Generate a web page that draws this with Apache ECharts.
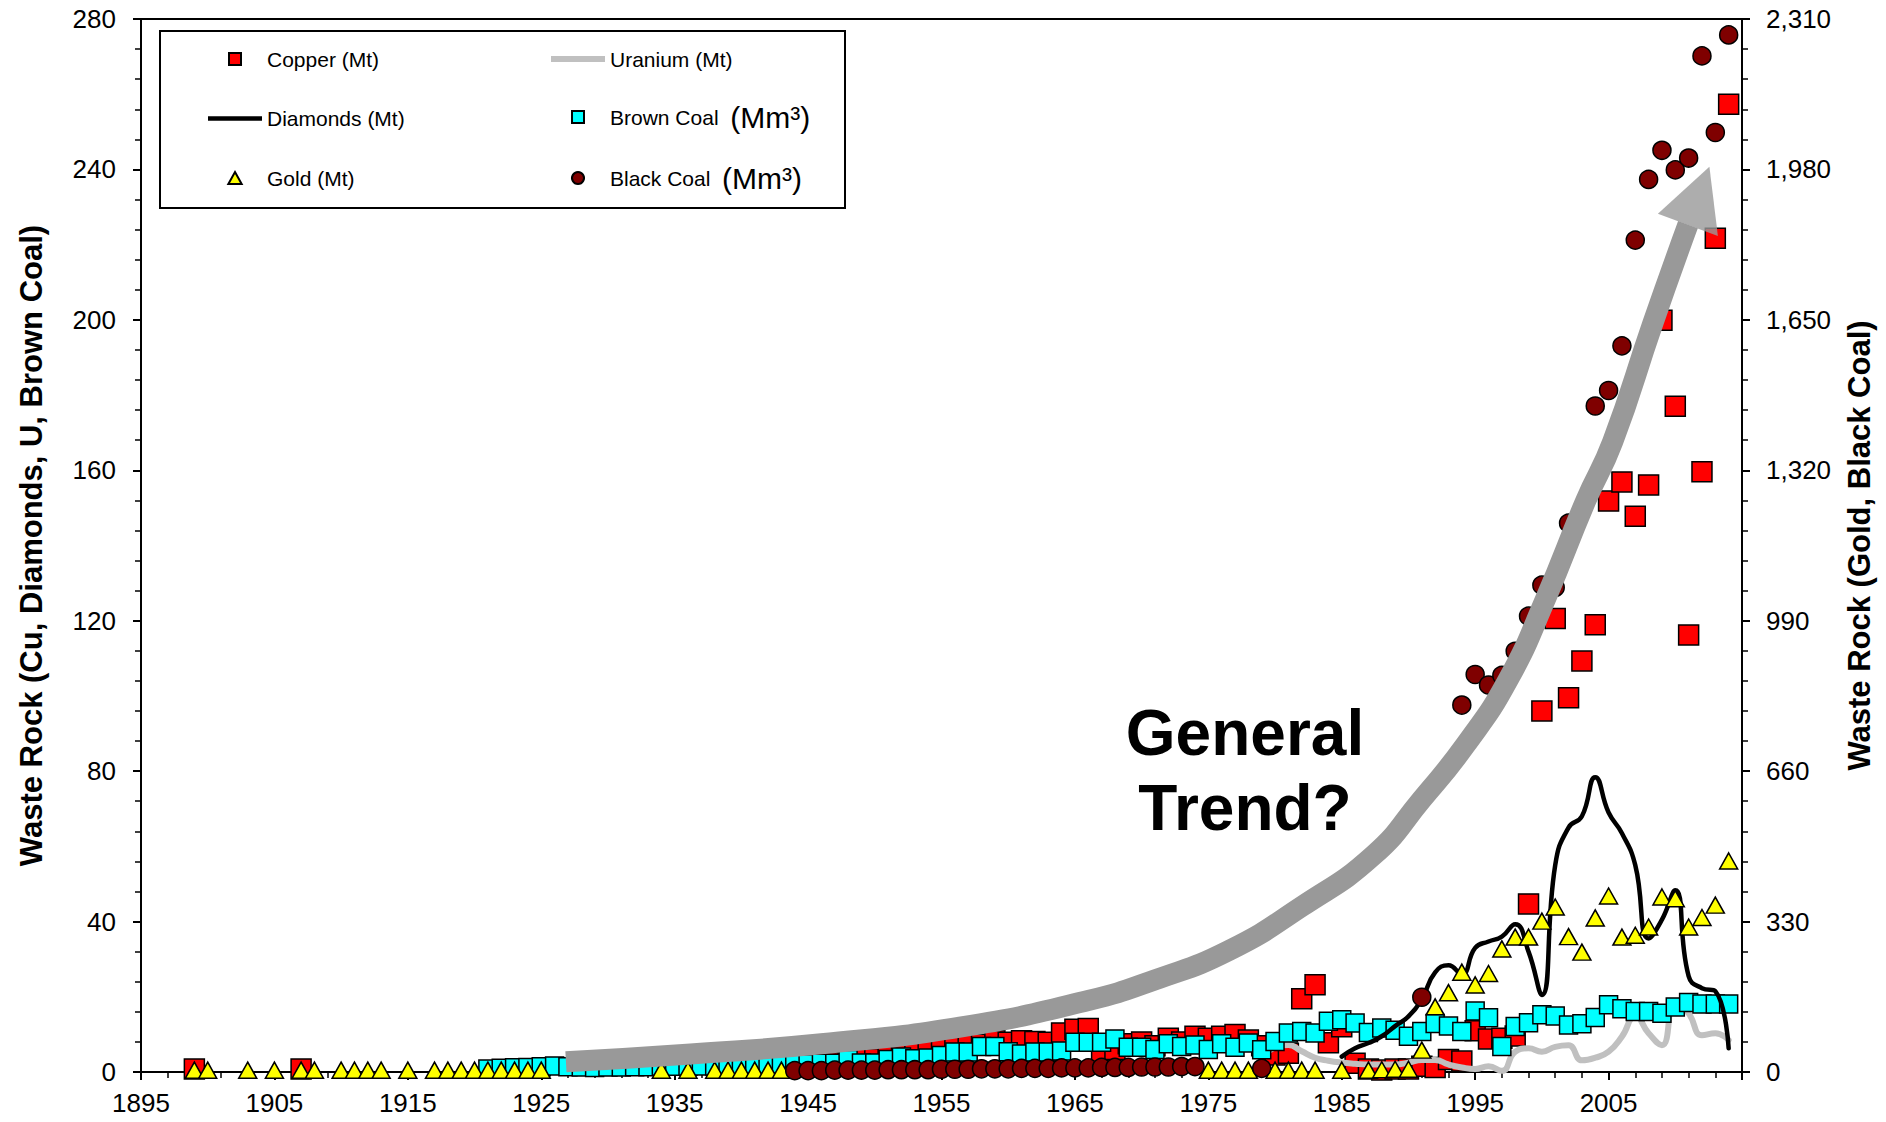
<!DOCTYPE html>
<html>
<head>
<meta charset="utf-8">
<title>Waste Rock</title>
<script src="https://cdn.jsdelivr.net/npm/echarts/dist/echarts.min.js"></script>
<style>
  html, body { margin: 0; padding: 0; background: #ffffff; }
  #chart { width: 1886px; height: 1122px; }
</style>
</head>
<body>
<div id="chart"></div>
<script>
// ---- Waste rock by commodity (left axis: Mt / Mm3, right axis: Gold & Black Coal) ----

const copperYears = [1899, 1907,
  1947, 1948, 1949, 1950, 1951, 1952, 1953, 1954, 1955, 1956,
  1957, 1958, 1959, 1960, 1961, 1962, 1963, 1964, 1965, 1966,
  1967, 1968, 1969, 1970, 1971, 1972, 1973, 1974, 1975, 1976,
  1977, 1978, 1979, 1980, 1981, 1982, 1983, 1984, 1985, 1986,
  1987, 1988, 1989, 1990, 1991, 1992, 1993, 1994, 1995, 1996,
  1997, 1998, 1999, 2000, 2001, 2002, 2003, 2004, 2005, 2006,
  2007, 2008, 2009, 2010, 2011, 2012, 2013, 2014];
const copperValues = [0.8, 0.8,
  2.5, 3.0, 4.0, 3.5, 4.4, 4.8, 5.3, 6.1, 7.0, 7.4,
  7.9, 7.4, 8.3, 7.9, 8.3, 8.1, 7.9, 10.4, 11.4, 11.6,
  5.0, 6.0, 7.5, 8.0, 7.0, 9.0, 8.0, 9.5, 9.0, 9.5,
  10.0, 8.5, 7.0, 4.5, 5.0, 19.5, 23.2, 7.8, 12.0, 2.3,
  0.8, 0.5, 0.8, 0.8, 1.5, 1.2, 3.3, 2.9, 11.0, 8.8,
  9.0, 9.6, 44.7, 96.0, 120.6, 99.5, 109.3, 118.9, 151.8, 156.9,
  147.8, 156.1, 199.9, 177.0, 116.2, 159.6, 221.7, 257.3];

const diamondYears = [1985, 1986, 1987, 1988, 1989, 1990, 1991, 1992, 1993, 1994,
  1995, 1996, 1997, 1998, 1999, 2000, 2001, 2002, 2003, 2004,
  2005, 2006, 2007, 2008, 2009, 2010, 2011, 2012, 2013, 2014];
const diamondValues = [4.1, 6.3, 7.7, 9.5, 12.2, 14.8, 19.4, 26.5, 28.4, 26.0,
  33.0, 34.7, 36.0, 39.3, 32.0, 20.5, 55.0, 65.0, 68.0, 78.4,
  69.0, 63.5, 55.0, 35.5, 40.5, 48.3, 25.5, 22.3, 21.5, 6.3];

const goldYears = [1899, 1900, 1903, 1905, 1907, 1908, 1910, 1911, 1912, 1913,
  1915, 1917, 1918, 1919, 1920, 1921, 1922, 1923, 1924, 1925,
  1934, 1936, 1938, 1939, 1940, 1941, 1942, 1943,
  1975, 1976, 1977, 1978, 1980, 1981, 1982, 1983, 1985, 1987,
  1988, 1989, 1990, 1991, 1992, 1993, 1994, 1995, 1996, 1997,
  1998, 1999, 2000, 2001, 2002, 2003, 2004, 2005, 2006, 2007,
  2008, 2009, 2010, 2011, 2012, 2013, 2014];
const goldValues = [4, 4, 4, 4, 4, 4, 4, 4, 4, 4,
  4, 4, 4, 4, 4, 4, 4, 4, 4, 4,
  4, 4, 4, 4, 4, 4, 4, 4,
  4, 4, 4, 4, 4, 4, 4, 4, 4, 4,
  5, 6, 6, 48, 143, 174, 219, 191, 216, 270,
  296, 296, 331, 362, 297, 263, 338, 386, 296, 300,
  318, 384, 380, 318, 339, 366, 463];

const uraniumYears = [1979, 1980, 1981, 1982, 1983, 1984, 1985, 1986, 1987, 1988,
  1989, 1990, 1991, 1992, 1993, 1994, 1995, 1996, 1997, 1998,
  1999, 2000, 2001, 2002, 2003, 2004, 2005, 2006, 2007, 2008,
  2009, 2010, 2011, 2012, 2013, 2014];
const uraniumValues = [4.0, 6.5, 7.2, 5.5, 3.8, 3.0, 2.5, 2.2, 2.0, 2.0,
  2.0, 2.5, 3.2, 3.2, 2.0, 1.2, 0.8, 1.5, 0.3, 5.4,
  6.3, 5.4, 6.7, 7.1, 3.1, 3.8, 5.4, 9.4, 14.9, 10.3,
  7.1, 18.8, 15.6, 9.8, 10.3, 8.5];

const brownCoalYears = [1921, 1922, 1923, 1924, 1925, 1926, 1927, 1928, 1929, 1930,
  1931, 1932, 1933, 1934, 1935, 1936, 1937, 1938, 1939, 1940,
  1941, 1942, 1943, 1944, 1945, 1946, 1947, 1948, 1949, 1950,
  1951, 1952, 1953, 1954, 1955, 1956, 1957, 1958, 1959, 1960,
  1961, 1962, 1963, 1964, 1965, 1966, 1967, 1968, 1969, 1970,
  1971, 1972, 1973, 1974, 1975, 1976, 1977, 1978, 1979, 1980,
  1981, 1982, 1983, 1984, 1985, 1986, 1987, 1988, 1989, 1990,
  1991, 1992, 1993, 1994, 1995, 1996, 1997, 1998, 1999, 2000,
  2001, 2002, 2003, 2004, 2005, 2006, 2007, 2008, 2009, 2010,
  2011, 2012, 2013, 2014];
const brownCoalValues = [0.8, 1.0, 1.1, 1.2, 1.4, 1.6, 1.4, 1.3, 1.2, 1.3,
  1.3, 1.4, 1.4, 1.5, 1.5, 1.5, 1.6, 1.6, 1.7, 1.8,
  1.9, 2.0, 2.1, 2.2, 2.2, 2.3, 2.3, 3.3, 2.4, 2.4,
  3.3, 4.0, 3.5, 3.7, 4.4, 5.3, 5.3, 6.8, 6.8, 5.4,
  4.8, 5.3, 5.3, 5.6, 7.9, 7.9, 7.9, 8.8, 6.6, 6.6,
  6.0, 7.5, 6.8, 7.2, 6.0, 7.5, 6.6, 7.7, 5.9, 8.1,
  10.4, 10.8, 10.4, 13.5, 13.9, 13.0, 10.5, 11.7, 11.1, 9.5,
  10.8, 12.9, 12.2, 10.8, 16.2, 14.4, 6.8, 12.1, 13.1, 15.2,
  14.9, 12.5, 12.8, 14.5, 17.9, 16.8, 16.1, 16.1, 15.6, 17.3,
  18.5, 18.1, 18.1, 18.1];

const blackCoalYears = [1944, 1945, 1946, 1947, 1948, 1949, 1950, 1951, 1952, 1953,
  1954, 1955, 1956, 1957, 1958, 1959, 1960, 1961, 1962, 1963,
  1964, 1965, 1966, 1967, 1968, 1969, 1970, 1971, 1972, 1973,
  1974, 1979, 1991,
  1994, 1995, 1996, 1997, 1998, 1999, 2000, 2001, 2002,
  2004, 2005, 2006, 2007, 2008, 2009, 2010, 2011, 2012, 2013, 2014];
const blackCoalValues = [3, 3, 3, 4, 4, 4, 4, 5, 5, 5,
  5, 6, 6, 6, 7, 7, 7, 8, 8, 8,
  9, 9, 9, 10, 10, 10, 11, 11, 11, 12,
  12, 8, 164,
  805, 872, 849, 870, 923, 1000, 1068, 1063, 1204,
  1461, 1495, 1593, 1825, 1958, 2022, 1979, 2005, 2229, 2061, 2275];

// "General Trend?" arrow: shaft path (left-axis units) and head location
const trendYears = [1926.85, 1936.2, 1946, 1956.5, 1966, 1971, 1976.6, 1982, 1987.4, 1991,
  1994.3, 1997.5, 2000.3, 2003.3, 2005.3, 2008.3, 2010.95];
const trendValues = [2.7, 4.8, 7.5, 12, 19, 24.5, 32.4, 44, 57.7, 72.5,
  87.1, 104.5, 126, 152, 167.5, 198.9, 225.3];
const trendHead = [2011.75, 233.0];

// Axis ticks
const yearTicks = { min: 1895, max: 2015, step: 10 };
const leftTicks = { min: 0, max: 280, step: 40 };
const rightTicks = { min: 0, max: 2310, step: 330 };

const FONT = "'Liberation Sans', Arial, Helvetica, sans-serif";
const pairs = (xs, ys) => xs.map((x, i) => [x, ys[i]]);
const withCommas = v => String(v).replace(/\B(?=(\d{3})+(?!\d))/g, ',');

const outline = { borderColor: '#000000', borderWidth: 1.5 };

// legend glyphs (kept square by the legend's aspect handling)
const ICON_SQUARE = 'path://M0,0H10V10H0Z';
const ICON_TRIANGLE = 'path://M5,0L10,9L0,9Z';
const ICON_CIRCLE = 'path://M5,0A5,5 0 1,1 4.99,0Z';

function valueAxis(ticks, extra) {
  return Object.assign({
    type: 'value',
    min: ticks.min,
    max: ticks.max,
    interval: ticks.step,
    axisLine: { show: true, onZero: false, lineStyle: { color: '#000', width: 2 } },
    axisTick: { show: true, inside: false, length: 8, lineStyle: { color: '#000', width: 2 } },
    minorTick: { show: true, splitNumber: 5, length: 6, lineStyle: { color: '#000', width: 1.5 } },
    splitLine: { show: false },
    minorSplitLine: { show: false }
  }, extra);
}

const legendText = {
  fontSize: 21, color: '#000', fontFamily: FONT, lineHeight: 24,
  rich: { u: { fontSize: 30, color: '#000', fontFamily: FONT, lineHeight: 24 } }
};
const legendBase = {
  orient: 'vertical', itemWidth: 54, itemHeight: 12, padding: 0,
  selectedMode: false, symbolKeepAspect: true, textStyle: legendText,
  formatter: name => name.indexOf('Coal') >= 0 ? name + '  {u|(Mm\u00B3)}' : name
};

const option = {
  animation: false,
  backgroundColor: '#ffffff',
  textStyle: { fontFamily: FONT },
  grid: {
    left: 141, right: 144, top: 19, bottom: 50,
    show: true, borderColor: '#000', borderWidth: 2,
    outerBoundsMode: 'none'
  },
  xAxis: valueAxis(yearTicks, {
    axisLabel: { formatter: v => String(v), fontSize: 26, color: '#000', margin: 18, fontFamily: FONT,
      showMinLabel: true, showMaxLabel: false }
  }),
  yAxis: [
    valueAxis(leftTicks, {
      position: 'left',
      name: 'Waste Rock (Cu, Diamonds, U, Brown Coal)',
      nameLocation: 'middle', nameRotate: 90, nameGap: 94,
      nameTextStyle: { fontSize: 31, fontWeight: 'bold', color: '#000', fontFamily: FONT },
      axisLabel: { fontSize: 26, color: '#000', margin: 25, fontFamily: FONT, showMinLabel: true, showMaxLabel: true }
    }),
    valueAxis(rightTicks, {
      position: 'right',
      name: 'Waste Rock (Gold, Black Coal)',
      nameLocation: 'middle', nameRotate: 90, nameGap: 102,
      nameTextStyle: { fontSize: 31, fontWeight: 'bold', color: '#000', fontFamily: FONT },
      axisLabel: { formatter: withCommas, fontSize: 26, color: '#000', margin: 24, fontFamily: FONT,
        showMinLabel: true, showMaxLabel: true }
    })
  ],
  legend: [
    Object.assign({}, legendBase, {
      left: 208, top: 47, itemGap: 35.5,
      data: [
        { name: 'Copper (Mt)', icon: ICON_SQUARE },
        { name: 'Diamonds (Mt)', icon: 'path://M0,0H54V4.5H0Z', itemStyle: { borderWidth: 0 } },
        { name: 'Gold (Mt)', icon: ICON_TRIANGLE }
      ]
    }),
    Object.assign({}, legendBase, {
      left: 551, top: 47, itemGap: 31,
      data: [
        { name: 'Uranium (Mt)', icon: 'path://M0,0H54V6H0Z', itemStyle: { borderWidth: 0 } },
        { name: 'Brown Coal', icon: ICON_SQUARE },
        { name: 'Black Coal', icon: ICON_CIRCLE }
      ]
    })
  ],
  graphic: [
    {
      type: 'rect', left: 159, top: 30, z: 1,
      shape: { width: 685, height: 177 },
      style: { fill: '#ffffff', stroke: '#000000', lineWidth: 2 }
    },
    {
      type: 'text', x: 1245, y: 733, z: 20,
      style: { text: 'General', fill: '#000', fontSize: 64, fontWeight: 'bold', fontFamily: FONT,
        align: 'center', verticalAlign: 'middle', textAlign: 'center', textVerticalAlign: 'middle' }
    },
    {
      type: 'text', x: 1245, y: 808, z: 20,
      style: { text: 'Trend?', fill: '#000', fontSize: 64, fontWeight: 'bold', fontFamily: FONT,
        align: 'center', verticalAlign: 'middle', textAlign: 'center', textVerticalAlign: 'middle' }
    }
  ],
  series: [
    {
      name: 'Copper (Mt)', type: 'scatter', yAxisIndex: 0, z: 2,
      symbol: 'rect', symbolSize: 20,
      itemStyle: Object.assign({ color: '#ff0000', opacity: 1 }, outline),
      data: pairs(copperYears, copperValues)
    },
    {
      name: 'Uranium (Mt)', type: 'line', yAxisIndex: 0, z: 3,
      smooth: 0.5, symbol: 'none', showSymbol: false, color: '#c0c0c0',
      lineStyle: { color: '#c0c0c0', width: 6, cap: 'round', join: 'round' },
      data: pairs(uraniumYears, uraniumValues)
    },
    {
      name: 'Brown Coal', type: 'scatter', yAxisIndex: 0, z: 4,
      symbol: 'rect', symbolSize: 18,
      itemStyle: Object.assign({ color: '#00ffff', opacity: 1 }, outline),
      data: pairs(brownCoalYears, brownCoalValues)
    },
    {
      name: 'Diamonds (Mt)', type: 'line', yAxisIndex: 0, z: 5,
      smooth: 0.5, symbol: 'none', showSymbol: false, color: '#000000',
      lineStyle: { color: '#000000', width: 4.5, cap: 'round', join: 'round' },
      data: pairs(diamondYears, diamondValues)
    },
    {
      name: 'Gold (Mt)', type: 'scatter', yAxisIndex: 1, z: 6,
      symbol: 'triangle', symbolSize: [18, 16],
      itemStyle: Object.assign({ color: '#ffff00', opacity: 1 }, outline),
      data: pairs(goldYears, goldValues)
    },
    {
      name: 'Black Coal', type: 'scatter', yAxisIndex: 1, z: 7,
      symbol: 'circle', symbolSize: 18,
      itemStyle: Object.assign({ color: '#7f0000', opacity: 1 }, outline),
      data: pairs(blackCoalYears, blackCoalValues)
    },
    {
      name: 'trend', type: 'line', yAxisIndex: 0, z: 8, silent: true, clip: false,
      smooth: 0.5, symbol: 'none', showSymbol: false,
      lineStyle: { color: '#999999', width: 21, cap: 'butt', join: 'round' },
      data: pairs(trendYears, trendValues)
    },
    {
      name: 'trendHead', type: 'scatter', yAxisIndex: 0, z: 8, silent: true, clip: false,
      symbol: 'triangle', symbolSize: [64, 62], symbolRotate: -20.3,
      itemStyle: { color: '#999999', borderWidth: 0 },
      data: [trendHead]
    }
  ]
};

const chart = echarts.init(document.getElementById('chart'), null, { renderer: 'svg' });
chart.setOption(option);
</script>
</body>
</html>
